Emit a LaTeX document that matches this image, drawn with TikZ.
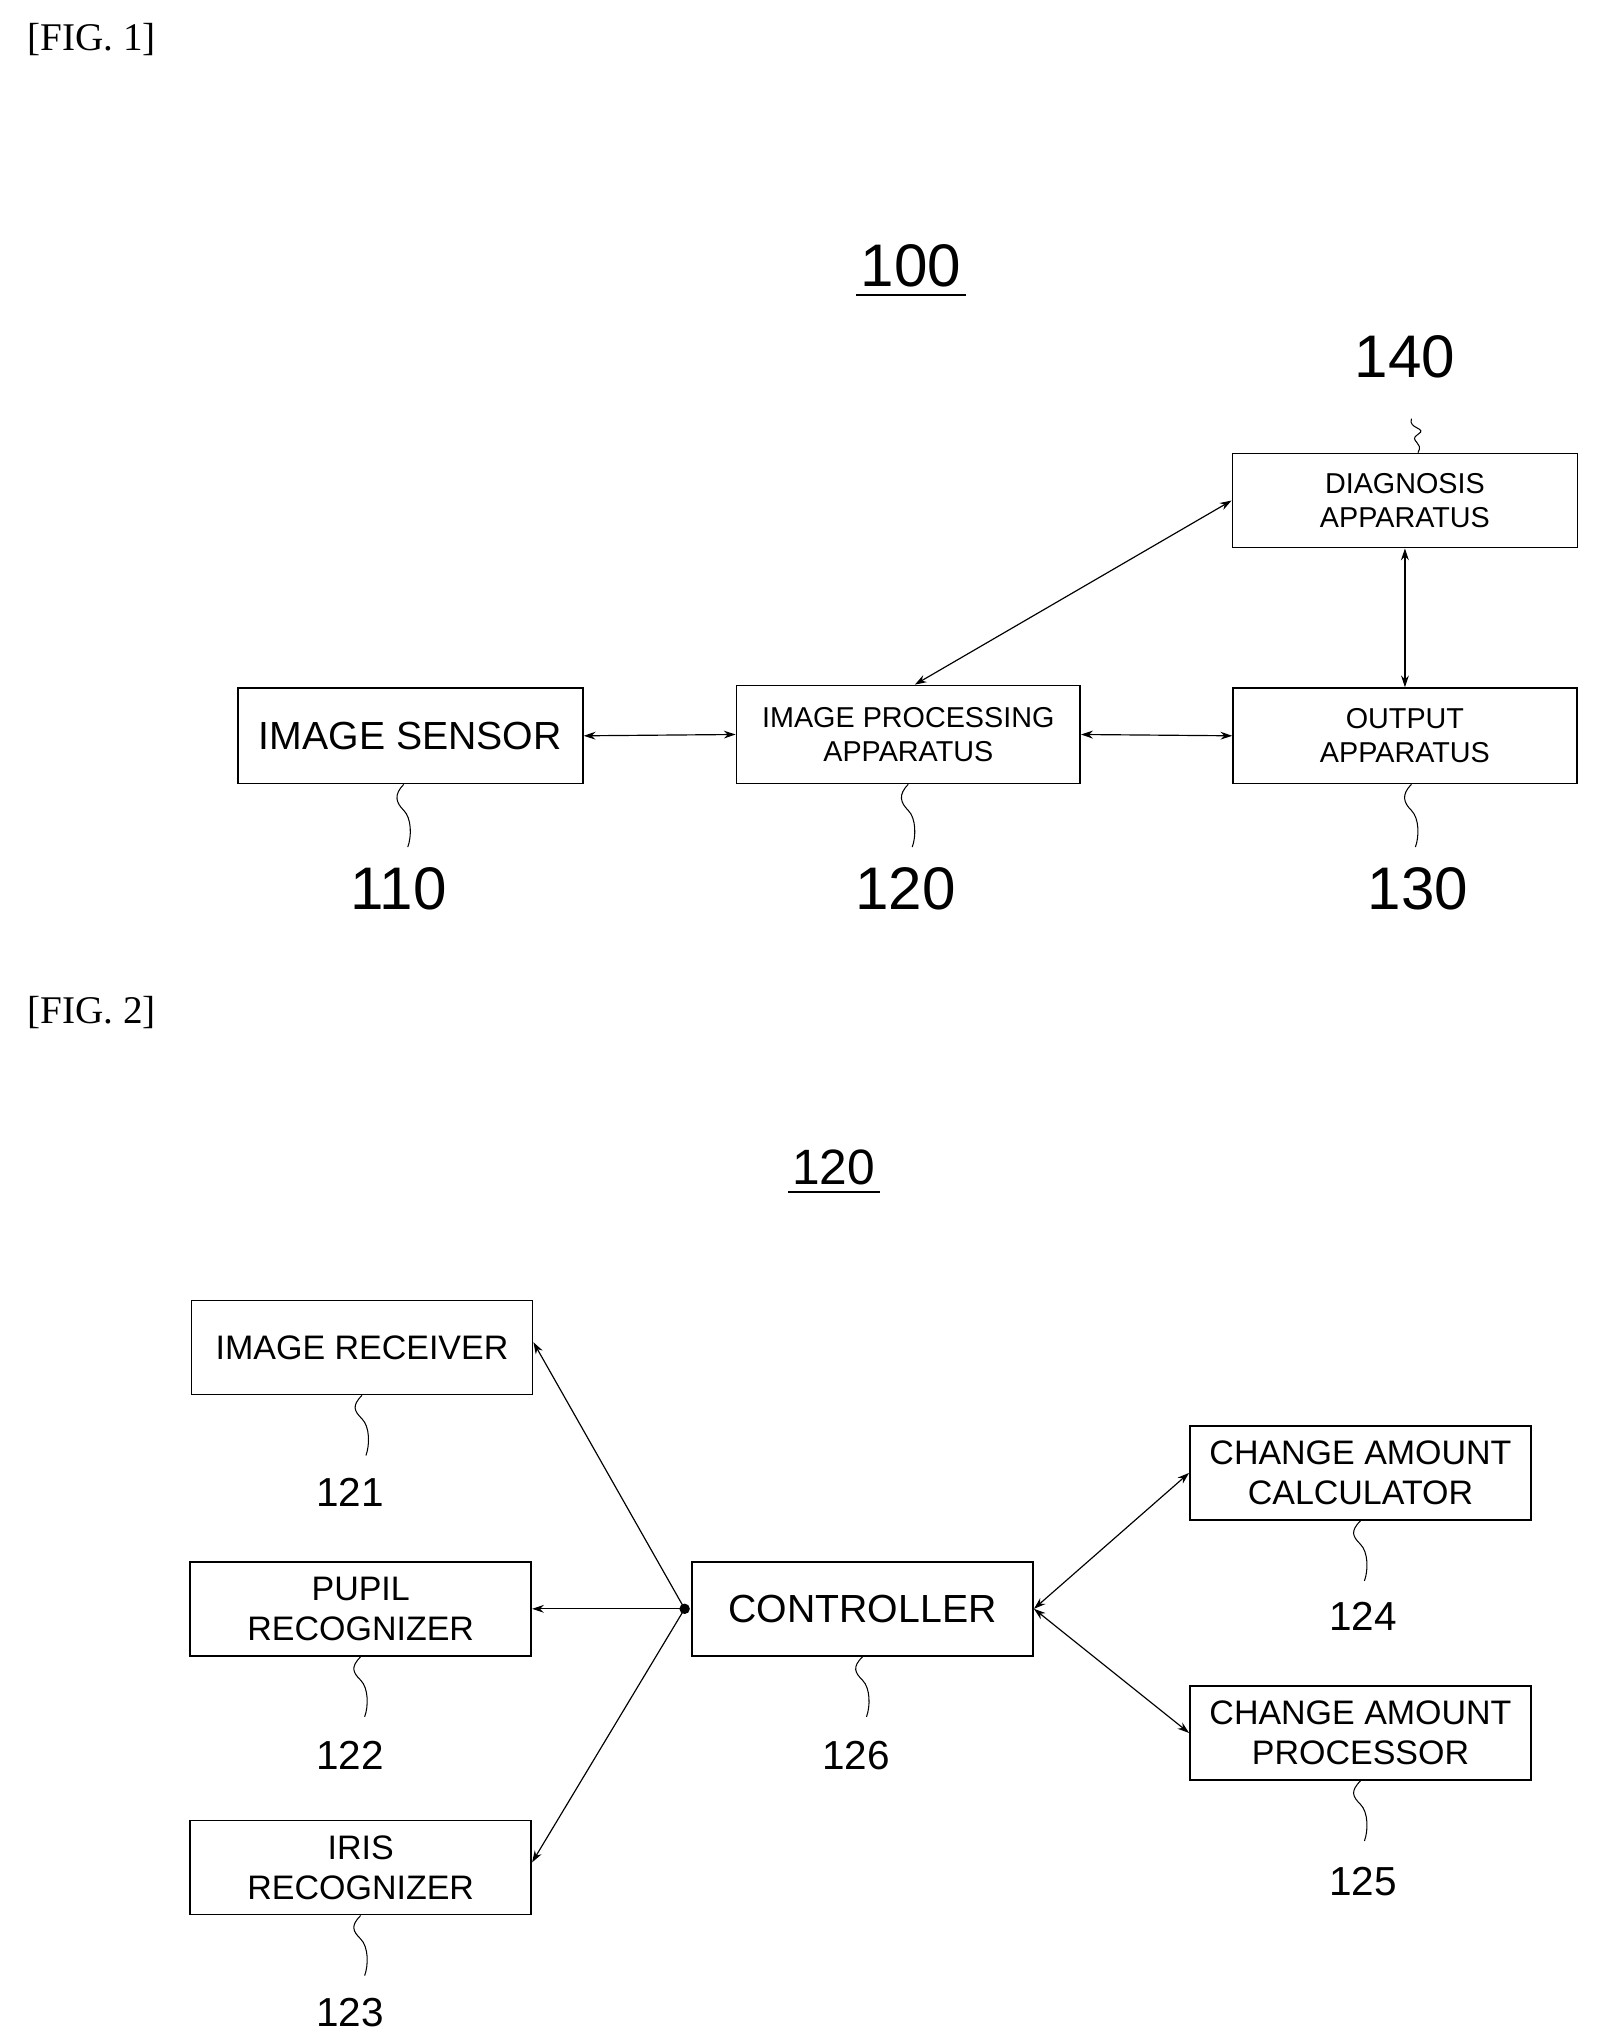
\documentclass[tikz,border=0pt]{standalone}
\usepackage{fontspec}
\setmainfont{Liberation Serif}
\setsansfont{Liberation Sans}
\usetikzlibrary{arrows.meta}
\begin{document}
\begin{tikzpicture}[x=1pt,y=-1pt,
 box/.style={draw,line width=1.3pt,inner sep=0pt,font=\sffamily,align=center},
 lbl/.style={font=\sffamily},
 con/.style={line width=0.9pt,{Stealth[length=9pt,width=6pt]}-{Stealth[length=9pt,width=6pt]}},
 one/.style={line width=0.9pt,-{Stealth[length=9pt,width=6pt]}},
 sq/.style={line width=0.8pt}]
\useasboundingbox (0,0) rectangle (1222,1564);
\node[font=\fontsize{30}{30}\selectfont] (f1) at (70,30) {[FIG. 1]};
\node[lbl,font=\sffamily\fontsize{46}{46}\selectfont] (n100) at (697,203) {100};
\draw[line width=1.5pt] (655,226) -- (739,226);
% boxes fig1
\node[box,minimum width=264,minimum height=72,font=\sffamily\fontsize{22}{26}\selectfont] (diag) at (1075,383) {DIAGNOSIS\\APPARATUS};
\node[box,minimum width=264,minimum height=73,font=\sffamily\fontsize{30}{30}\selectfont] (sens) at (314,563) {IMAGE SENSOR};
\node[box,minimum width=263,minimum height=75,font=\sffamily\fontsize{22}{26}\selectfont] (proc) at (695,562) {IMAGE PROCESSING\\APPARATUS};
\node[box,minimum width=263,minimum height=73,font=\sffamily\fontsize{22}{26}\selectfont] (out) at (1075,563) {OUTPUT\\APPARATUS};
\node[lbl,font=\sffamily\fontsize{46}{46}\selectfont] (n140) at (1075,273) {140};
\node[lbl,font=\sffamily\fontsize{46}{46}\selectfont] (n110) at (305,680) {110};
\node[lbl,font=\sffamily\fontsize{46}{46}\selectfont] (n120) at (693,680) {120};
\node[lbl,font=\sffamily\fontsize{46}{46}\selectfont] (n130) at (1085,680) {130};
\draw[sq] (diag.north) ++(10,0) .. controls +(5,-8) and +(-8,5) .. ++(0,-14) .. controls +(8,-5) and +(-3,8) .. ++(-5,-12);
\foreach \b/\dx in {sens/-5,proc/0,out/5}{
 \draw[sq] ([xshift=\dx]\b.south) .. controls +(-8,8) and +(-6,-6) .. ++(0,20) .. controls +(6,6) and +(3,-8) .. ++(3,28);}
\draw[con] (sens.east) -- (proc.west);
\draw[con] (proc.east) -- (out.west);
\draw[con] (diag.south) -- (out.north);
\draw[con] (proc.north) ++(5,0) -- (diag.west);
% fig2
\node[font=\fontsize{30}{30}\selectfont] (f2) at (70,775) {[FIG. 2]};
\node[lbl,font=\sffamily\fontsize{38}{38}\selectfont] (n120b) at (638,893) {120};
\draw[line width=1.5pt] (603,912) -- (673,912);
\tikzset{b2/.style={box,minimum width=261,minimum height=72,font=\sffamily\fontsize{26}{31}\selectfont},
 l2/.style={lbl,font=\sffamily\fontsize{31}{31}\selectfont}}
\node[b2] (rec) at (277,1031) {IMAGE RECEIVER};
\node[b2] (pup) at (276,1231) {PUPIL\\RECOGNIZER};
\node[b2] (iris) at (276,1429) {IRIS\\RECOGNIZER};
\node[b2,font=\sffamily\fontsize{30}{30}\selectfont] (ctl) at (660,1231) {CONTROLLER};
\node[b2] (calc) at (1041,1127) {CHANGE AMOUNT\\CALCULATOR};
\node[b2] (pro) at (1041,1326) {CHANGE AMOUNT\\PROCESSOR};
\node[l2] (n121) at (268,1142) {121};
\node[l2] (n122) at (268,1343) {122};
\node[l2] (n123) at (268,1540) {123};
\node[l2] (n126) at (655,1343) {126};
\node[l2] (n124) at (1043,1237) {124};
\node[l2] (n125) at (1043,1440) {125};
\foreach \b in {rec,pup,iris,ctl,calc,pro}{
 \draw[sq] (\b.south) .. controls +(-8,8) and +(-6,-6) .. ++(0,18) .. controls +(6,6) and +(3,-8) .. ++(3,28);}
\coordinate (cl) at ([xshift=-5]ctl.west);
\fill (cl) circle (4);
\draw[one] (cl) -- ([yshift=4]rec.east);
\draw[one] (cl) -- (pup.east);
\draw[one] (cl) -- ([yshift=4]iris.east);
\draw[con] (ctl.east) -- (calc.west);
\draw[con] (ctl.east) -- (pro.west);
\end{tikzpicture}
\end{document}
